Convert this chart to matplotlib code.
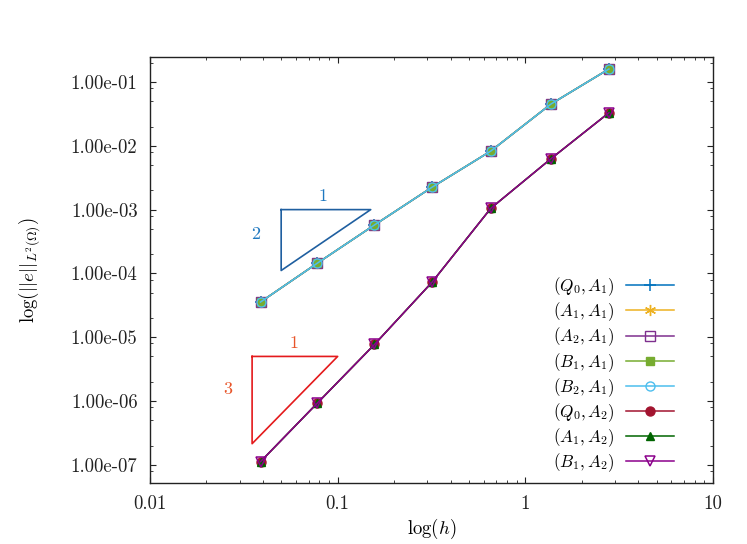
import numpy as np
import matplotlib
matplotlib.use('Agg')
import matplotlib.pyplot as plt
from matplotlib.ticker import FixedLocator, FixedFormatter, NullFormatter

plt.rcParams['font.family'] = 'serif'
plt.rcParams['font.serif'] = ['cmr10']
plt.rcParams['mathtext.fontset'] = 'cm'
plt.rcParams['axes.unicode_minus'] = False
plt.rcParams['axes.formatter.use_mathtext'] = True

# ---- data ----
h = [0.0388, 0.0777, 0.157, 0.318, 0.655, 1.37, 2.79]
err_A1 = [3.56e-5, 1.44e-4, 5.74e-4, 2.24e-3, 8.29e-3, 4.52e-2, 0.160]
err_A2 = [1.12e-7, 9.2e-7, 7.69e-6, 7.26e-5, 1.05e-3, 6.28e-3, 3.30e-2]

series_labels = [r'$(Q_0, A_1)$', r'$(A_1, A_1)$', r'$(A_2, A_1)$', r'$(B_1, A_1)$',
                 r'$(B_2, A_1)$', r'$(Q_0, A_2)$', r'$(A_1, A_2)$', r'$(B_1, A_2)$']
series_values = [err_A1, err_A1, err_A1, err_A1, err_A1, err_A2, err_A2, err_A2]

x_ticks = [0.01, 0.1, 1, 10]
x_tick_labels = ['0.01', '0.1', '1', '10']
y_ticks = [1e-7, 1e-6, 1e-5, 1e-4, 1e-3, 1e-2, 1e-1]
y_tick_labels = ['1.00e-07', '1.00e-06', '1.00e-05', '1.00e-04', '1.00e-03', '1.00e-02', '1.00e-01']

# slope triangles: (x_left, x_right, y_top, slope)
tri_A1 = (0.05, 0.15, 1e-3, 2)
tri_A2 = (0.035, 0.1, 5e-6, 3)

# ---- styles ----
styles = [
    dict(color='#0072bd', marker='+', mfc='#0072bd', ms=8, mew=1.1),
    dict(color='#edb120', marker=(6, 2, 0), mfc='#edb120', ms=8, mew=1.0),
    dict(color='#7e2f8e', marker='s', mfc='none', ms=6.5, mew=1.0),
    dict(color='#77ac30', marker='s', mfc='#77ac30', ms=5.5, mew=1.0),
    dict(color='#4dbeee', marker='o', mfc='none', ms=6.5, mew=1.0),
    dict(color='#a2142f', marker='o', mfc='#a2142f', ms=6.5, mew=1.0),
    dict(color='#006400', marker='^', mfc='#006400', ms=5.5, mew=1.0),
    dict(color='#8b008b', marker='v', mfc='none', ms=6.5, mew=1.1),
]

fig = plt.figure(figsize=(7.47, 5.44), dpi=100)
ax = fig.add_axes([150/747, 1-483/544, 563/747, 426/544])

handles = []
for lab, vals, st in zip(series_labels, series_values, styles):
    ln, = ax.plot(h, vals, color=st['color'], lw=1.1,
                  marker=st['marker'], markersize=st['ms'], markerfacecolor=st['mfc'],
                  markeredgecolor=st['color'], markeredgewidth=st['mew'], label=lab)
    handles.append(ln)

# slope triangles
def draw_tri(t, col):
    xl, xr, yt, s = t
    yb = yt * (xl / xr) ** s
    ax.plot([xl, xr, xl, xl], [yt, yt, yb, yt], color=col, lw=1.2)

draw_tri(tri_A1, '#1f5fa0')
draw_tri(tri_A2, '#e41a1c')
ax.text(0.0839, 1.63e-3, '1', color='#1f78c0', fontsize=13, ha='center', va='center')
ax.text(0.0366, 4.15e-4, '2', color='#1f78c0', fontsize=13, ha='center', va='center')
ax.text(0.0588, 8.1e-6, '1', color='#e8552a', fontsize=13, ha='center', va='center')
ax.text(0.0259, 1.54e-6, '3', color='#e8552a', fontsize=13, ha='center', va='center')

ax.set_xscale('log')
ax.set_yscale('log')
ax.set_xlim(0.01, 10)
ax.set_ylim(5.19e-8, 0.2466)

ax.xaxis.set_major_locator(FixedLocator(x_ticks))
ax.xaxis.set_major_formatter(FixedFormatter(x_tick_labels))
ax.xaxis.set_minor_locator(FixedLocator([m * 10.0**k for k in range(-2, 1) for m in range(2, 10)]))
ax.xaxis.set_minor_formatter(NullFormatter())
ax.yaxis.set_major_locator(FixedLocator(y_ticks))
ax.yaxis.set_major_formatter(FixedFormatter(y_tick_labels))
ax.yaxis.set_minor_locator(FixedLocator([m * 10.0**k for k in range(-8, 0) for m in (2, 5, 8)]))
ax.yaxis.set_minor_formatter(NullFormatter())

ax.tick_params(which='both', direction='in', top=True, right=True, labelsize=13.5, colors='#222222')
ax.tick_params(which='major', length=4.5, width=0.8, pad=9)
ax.tick_params(which='minor', length=2.2, width=0.6)
for sp in ax.spines.values():
    sp.set_color('#222222')
    sp.set_linewidth(1.0)

ax.set_xlabel(r'$\log(h)$', fontsize=13.5)
ax.set_ylabel(r'$\log(||e||_{L^2(\Omega)})$', fontsize=13.5)
ax.xaxis.set_label_coords(0.5, (483-517)/426)
ax.yaxis.set_label_coords((42-150)/563, 0.5)

leg = ax.legend(handles=handles, loc='lower right', frameon=False, markerfirst=False,
                fontsize=12.3, handlelength=2.8, handletextpad=0.7, labelspacing=0.14,
                borderaxespad=0, borderpad=0,
                bbox_to_anchor=((674-150)/563, (483-474)/426))

fig.savefig('out.png', dpi=100)
